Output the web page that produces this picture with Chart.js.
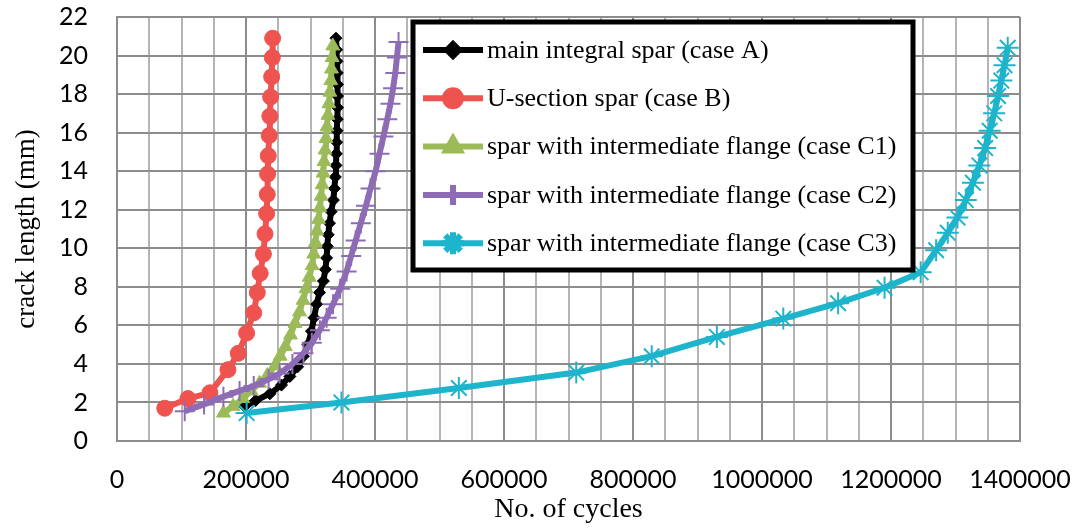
<!DOCTYPE html>
<html>
<head>
<meta charset="utf-8">
<script src="https://cdn.jsdelivr.net/npm/chart.js@4/dist/chart.umd.min.js"></script>
<style>
  html, body { margin: 0; padding: 0; background: #ffffff; }
  #wrap { width: 1085px; height: 528px; }
</style>
</head>
<body>
<div id="wrap"><canvas id="crackChart" width="1085" height="528"></canvas></div>
<script>
// crack growth curves: cycles (x) against crack length in mm (y)
const caseA_cycles = [198000, 215000, 237000, 255000, 268000, 280000, 289000, 296000, 301500, 305500, 309500, 314000, 320000, 323000, 325000, 326000, 327500, 329500, 332000, 335500, 337000, 338500, 339500, 340000, 340500, 341000, 341500, 342000, 342000, 342000, 341500, 341000, 340500, 339500];
const caseA_length = [1.8, 2.1, 2.45, 2.9, 3.35, 3.85, 4.4, 5.0, 5.7, 6.4, 7.1, 7.7, 8.3, 8.9, 9.5, 10.1, 10.7, 11.3, 11.9, 12.5, 13.1, 13.7, 14.3, 14.9, 15.5, 16.1, 16.7, 17.3, 17.9, 18.5, 19.1, 19.7, 20.3, 20.9];

const caseB_cycles = [74000, 110000, 144000, 172000, 188000, 201000, 212000, 217500, 222000, 227000, 229500, 232000, 233000, 233500, 234500, 236000, 237000, 238200, 239800, 240800, 241300];
const caseB_length = [1.7, 2.2, 2.5, 3.7, 4.55, 5.6, 6.65, 7.7, 8.7, 9.7, 10.75, 11.8, 12.8, 13.85, 14.8, 15.85, 16.85, 17.85, 18.9, 19.9, 20.9];

const caseC1_cycles = [165000, 180000, 195000, 208000, 221000, 233000, 245000, 253000, 261000, 269000, 276000, 283000, 288500, 293000, 298000, 302500, 305000, 307500, 310000, 312500, 314500, 316500, 318000, 319500, 321000, 322500, 324000, 325500, 327000, 328500, 330000, 331500, 332500, 333500, 334500];
const caseC1_length = [1.45, 1.8, 2.2, 2.6, 3.0, 3.4, 3.9, 4.4, 4.9, 5.5, 6.1, 6.7, 7.3, 7.9, 8.5, 9.1, 9.7, 10.3, 10.9, 11.5, 12.1, 12.7, 13.3, 13.9, 14.5, 15.1, 15.7, 16.3, 16.9, 17.5, 18.1, 18.7, 19.3, 19.9, 20.5];

const caseC2_cycles = [105000, 135000, 165000, 190000, 212000, 235000, 252000, 272000, 289000, 302000, 314500, 325000, 335000, 346000, 356000, 363000, 370000, 378000, 386000, 393000, 401000, 407000, 413000, 419000, 424000, 428000, 431500, 434000, 436500];
const caseC2_length = [1.55, 1.9, 2.3, 2.6, 2.85, 3.2, 3.5, 4.0, 4.55, 5.1, 5.75, 6.4, 7.1, 7.9, 8.8, 9.6, 10.4, 11.3, 12.2, 13.1, 14.0, 14.9, 15.8, 16.7, 17.5, 18.3, 19.1, 19.9, 20.7];

const caseC3_cycles = [201000, 348000, 530000, 712000, 829000, 930000, 1033000, 1118000, 1190000, 1246000, 1270000, 1288000, 1303000, 1316000, 1327000, 1337000, 1346000, 1353000, 1360000, 1366000, 1371000, 1376000, 1381000];
const caseC3_length = [1.45, 2.0, 2.75, 3.55, 4.4, 5.4, 6.35, 7.15, 7.95, 8.75, 9.9, 10.8, 11.6, 12.5, 13.4, 14.3, 15.2, 16.1, 17.0, 17.9, 18.7, 19.5, 20.4];

const seriesNames = [
    'main integral spar (case A)',
    'U-section spar (case B)',
    'spar with intermediate flange (case C1)',
    'spar with intermediate flange (case C2)',
    'spar with intermediate flange (case C3)'
];

const xTickLabels = ['0', '200000', '400000', '600000', '800000', '1000000', '1200000', '1400000'];
const yTickLabels = ['0', '2', '4', '6', '8', '10', '12', '14', '16', '18', '20', '22'];

function toPoints(xs, ys) {
    return xs.map((x, i) => ({ x: x, y: ys[i] }));
}

const tickFont = { family: 'Lato, sans-serif', size: 25 };
const serifFont = 'Liberation Serif, "Times New Roman", serif';

function makeSeries(label, xs, ys, color, style, radius, pointBorder, order) {
    return {
        label: label,
        data: toPoints(xs, ys),
        showLine: true,
        borderColor: color,
        backgroundColor: color,
        borderWidth: 6,
        pointStyle: style,
        pointRadius: radius,
        pointBorderWidth: pointBorder,
        pointBackgroundColor: color,
        pointBorderColor: color,
        tension: 0,
        order: order
    };
}

// Boxed legend sitting inside the plot area
const boxedLegend = {
    id: 'boxedLegend',
    afterDraw(chart) {
        const ctx = chart.ctx;
        const left = 413, top = 22, right = 913, bottom = 270;
        ctx.save();
        ctx.fillStyle = '#ffffff';
        ctx.fillRect(left, top, right - left, bottom - top);
        ctx.lineWidth = 5;
        ctx.strokeStyle = '#000000';
        ctx.strokeRect(left, top, right - left, bottom - top);

        ctx.font = '26px ' + serifFont;
        ctx.textBaseline = 'middle';
        ctx.textAlign = 'left';
        chart.data.datasets.forEach((ds, i) => {
            const y = 50 + i * 48.3;
            ctx.strokeStyle = ds.borderColor;
            ctx.fillStyle = ds.borderColor;
            ctx.lineWidth = 6;
            ctx.beginPath();
            ctx.moveTo(423, y);
            ctx.lineTo(483, y);
            ctx.stroke();
            Chart.helpers.drawPoint(ctx, {
                pointStyle: ds.pointStyle,
                radius: ds.pointRadius,
                borderWidth: ds.pointBorderWidth,
                rotation: 0
            }, 453, y);
            ctx.fillStyle = '#000000';
            ctx.fillText(ds.label, 487, y + 1);
        });
        ctx.restore();
    }
};

const ctx = document.getElementById('crackChart').getContext('2d');
new Chart(ctx, {
    type: 'scatter',
    data: {
        datasets: [
            makeSeries(seriesNames[0], caseA_cycles, caseA_length, '#000000', 'rectRot', 6, 1, 4),
            makeSeries(seriesNames[1], caseB_cycles, caseB_length, '#EF5350', 'circle', 8, 1, 3),
            makeSeries(seriesNames[2], caseC1_cycles, caseC1_length, '#9BBB59', 'triangle', 8, 1, 2),
            makeSeries(seriesNames[3], caseC2_cycles, caseC2_length, '#8E6CB5', 'cross', 10, 2, 1),
            makeSeries(seriesNames[4], caseC3_cycles, caseC3_length, '#1DB4CC', 'star', 11, 2, 0)
        ]
    },
    options: {
        responsive: false,
        animation: false,
        layout: { padding: { top: 17, right: 65, left: 0, bottom: 0 } },
        plugins: {
            legend: { display: false },
            tooltip: { enabled: false }
        },
        scales: {
            x: {
                type: 'linear',
                min: 0,
                max: 1400000,
                afterFit(scale) { scale.height = 87; },
                ticks: {
                    stepSize: 50000,
                    autoSkip: false,
                    maxRotation: 0,
                    padding: 0,
                    color: '#000000',
                    font: tickFont,
                    callback: function(value) {
                        return value % 200000 === 0 ? xTickLabels[value / 200000] : '';
                    }
                },
                grid: {
                    drawTicks: true,
                    tickLength: 24,
                    tickColor: 'rgba(0,0,0,0)',
                    lineWidth: 2,
                    color: function(c) {
                        return c.tick && c.tick.value % 200000 === 0 ? '#8C8C8C' : '#B5B5B5';
                    }
                },
                border: { color: '#8C8C8C', width: 2 },
                title: {
                    display: true,
                    text: 'No. of cycles',
                    color: '#000000',
                    font: { family: serifFont, size: 28 },
                    padding: { top: 0, bottom: 2 }
                }
            },
            y: {
                min: 0,
                max: 22,
                afterFit(scale) { scale.width = 117; },
                ticks: {
                    stepSize: 2,
                    padding: 0,
                    color: '#000000',
                    font: tickFont,
                    callback: function(value) {
                        return yTickLabels[value / 2];
                    }
                },
                grid: {
                    drawTicks: true,
                    tickLength: 29,
                    tickColor: 'rgba(0,0,0,0)',
                    lineWidth: 2,
                    color: '#8C8C8C'
                },
                border: { color: '#8C8C8C', width: 2 },
                title: {
                    display: true,
                    text: 'crack length (mm)',
                    color: '#000000',
                    font: { family: serifFont, size: 27 },
                    padding: { top: 11, bottom: 0 }
                }
            }
        }
    },
    plugins: [boxedLegend]
});
</script>
</body>
</html>
